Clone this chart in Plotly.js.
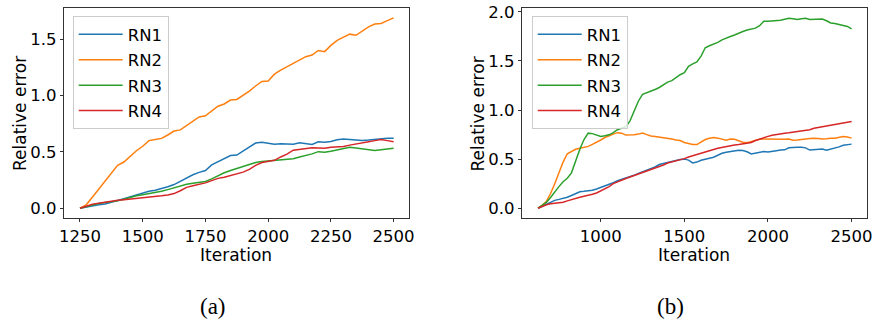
<!DOCTYPE html>
<html>
<head>
<meta charset="utf-8">
<script src="https://cdn.plot.ly/plotly-3.0.1.min.js"></script>
<style>html,body{margin:0;padding:0;background:#fff;}#chart{width:877px;height:324px;}</style>
</head>
<body>
<div id="chart"></div>
<script>
// ---------- data ----------
const seriesNames = ["RN1", "RN2", "RN3", "RN4"];
const seriesColors = ["#1f77b4", "#ff7f0e", "#2ca02c", "#d62728"];

// Panel (a)
const iterA = [1250,1275,1300,1325,1350,1375,1400,1425,1450,1475,
  1500,1525,1550,1575,1600,1625,1650,1675,1700,1725,
  1750,1775,1800,1825,1850,1875,1900,1925,1950,1975,
  2000,2025,2050,2075,2100,2125,2150,2175,2200,2225,
  2250,2275,2300,2325,2350,2375,2400,2425,2450,2475,
  2500];
const rn1A = [0,0.012,0.02,0.03,0.037,0.05,0.068,0.085,0.103,0.12,
  0.138,0.15,0.16,0.172,0.19,0.21,0.24,0.273,0.297,0.318,
  0.335,0.385,0.415,0.438,0.468,0.472,0.51,0.545,0.578,0.586,
  0.575,0.568,0.572,0.57,0.568,0.58,0.574,0.565,0.59,0.585,
  0.592,0.608,0.615,0.61,0.608,0.602,0.605,0.61,0.614,0.622,
  0.62];
const rn2A = [0,0.03,0.10,0.17,0.24,0.30,0.38,0.41,0.46,0.51,
  0.55,0.60,0.61,0.62,0.65,0.685,0.695,0.735,0.77,0.81,
  0.82,0.86,0.905,0.925,0.96,0.965,1.00,1.04,1.085,1.125,
  1.13,1.19,1.225,1.255,1.28,1.31,1.345,1.36,1.40,1.39,
  1.445,1.49,1.52,1.545,1.535,1.575,1.61,1.635,1.64,1.665,
  1.69];
const rn3A = [0,0.015,0.03,0.042,0.05,0.058,0.065,0.08,0.097,0.11,
  0.12,0.13,0.137,0.15,0.165,0.183,0.197,0.212,0.222,0.23,
  0.237,0.26,0.29,0.315,0.334,0.352,0.365,0.387,0.405,0.415,
  0.42,0.424,0.428,0.43,0.44,0.455,0.468,0.482,0.502,0.497,
  0.505,0.517,0.525,0.54,0.535,0.528,0.522,0.512,0.518,0.525,
  0.532];
const rn4A = [0,0.02,0.035,0.045,0.055,0.063,0.07,0.075,0.08,0.085,
  0.09,0.097,0.104,0.11,0.118,0.13,0.155,0.185,0.2,0.21,
  0.225,0.245,0.265,0.275,0.29,0.305,0.32,0.345,0.38,0.405,
  0.415,0.425,0.455,0.48,0.515,0.522,0.528,0.537,0.535,0.532,
  0.542,0.547,0.548,0.56,0.568,0.58,0.59,0.6,0.61,0.6,
  0.59];

// Panel (b)
const iterB = [625,650,675,700,725,750,775,800,825,850,
  875,900,925,950,975,1000,1025,1050,1075,1100,
  1125,1150,1175,1200,1225,1250,1275,1300,1325,1350,
  1375,1400,1425,1450,1475,1500,1525,1550,1575,1600,
  1625,1650,1675,1700,1725,1750,1775,1800,1825,1850,
  1875,1900,1925,1950,1975,2000,2025,2050,2075,2100,
  2125,2150,2175,2200,2225,2250,2275,2300,2325,2350,
  2375,2400,2425,2450,2475,2500];
const rn1B = [0,0.02,0.04,0.065,0.08,0.09,0.10,0.112,0.13,0.15,
  0.168,0.172,0.175,0.183,0.195,0.21,0.222,0.24,0.26,0.28,
  0.293,0.305,0.317,0.335,0.355,0.37,0.382,0.398,0.42,0.445,
  0.455,0.467,0.478,0.487,0.497,0.50,0.49,0.462,0.47,0.488,
  0.502,0.51,0.52,0.54,0.56,0.57,0.578,0.588,0.59,0.588,
  0.575,0.553,0.56,0.572,0.578,0.572,0.575,0.585,0.592,0.595,
  0.615,0.622,0.622,0.622,0.615,0.592,0.595,0.60,0.602,0.59,
  0.60,0.612,0.625,0.642,0.648,0.653];
const rn2B = [0,0.03,0.07,0.15,0.25,0.36,0.47,0.555,0.58,0.60,
  0.61,0.62,0.63,0.65,0.67,0.695,0.72,0.74,0.755,0.77,
  0.765,0.745,0.745,0.748,0.755,0.765,0.75,0.735,0.73,0.725,
  0.715,0.71,0.705,0.695,0.69,0.67,0.66,0.65,0.648,0.675,
  0.70,0.712,0.72,0.714,0.705,0.692,0.705,0.702,0.688,0.672,
  0.668,0.68,0.692,0.703,0.706,0.705,0.703,0.70,0.697,0.702,
  0.704,0.692,0.695,0.703,0.705,0.71,0.714,0.71,0.705,0.708,
  0.714,0.712,0.72,0.73,0.725,0.714];
const rn3B = [0,0.03,0.06,0.11,0.17,0.22,0.27,0.305,0.36,0.49,
  0.60,0.70,0.765,0.76,0.745,0.73,0.738,0.748,0.77,0.80,
  0.815,0.83,0.89,1.0,1.09,1.16,1.175,1.19,1.21,1.23,
  1.255,1.285,1.30,1.335,1.36,1.38,1.445,1.47,1.49,1.55,
  1.635,1.655,1.672,1.69,1.715,1.735,1.75,1.765,1.785,1.80,
  1.815,1.825,1.835,1.86,1.905,1.905,1.908,1.91,1.915,1.925,
  1.935,1.93,1.922,1.93,1.935,1.922,1.925,1.925,1.928,1.91,
  1.888,1.882,1.872,1.862,1.852,1.827];
const rn4B = [0,0.02,0.035,0.045,0.05,0.05,0.06,0.075,0.09,0.10,
  0.112,0.122,0.13,0.142,0.155,0.175,0.195,0.22,0.25,0.27,
  0.285,0.303,0.318,0.333,0.35,0.362,0.378,0.395,0.41,0.422,
  0.44,0.46,0.47,0.482,0.493,0.505,0.522,0.536,0.548,0.562,
  0.573,0.585,0.598,0.61,0.62,0.632,0.64,0.645,0.65,0.655,
  0.66,0.67,0.69,0.705,0.722,0.732,0.743,0.752,0.758,0.763,
  0.768,0.775,0.782,0.786,0.79,0.80,0.815,0.823,0.83,0.838,
  0.845,0.855,0.863,0.875,0.88,0.884];

const ticksA = [1250, 1500, 1750, 2000, 2250, 2500];
const ticksB = [1000, 1500, 2000, 2500];
const ticksYA = [0, 0.5, 1.0, 1.5];
const ticksYB = [0, 0.5, 1.0, 1.5, 2.0];
const captions = ["(a)", "(b)"];
const xTitle = "Iteration";
const yTitle = "Relative error";

// ---------- build ----------
const FONT = "DejaVu Sans, sans-serif";
const TICK_FS = 16.5;
const TITLE_FS = 17;
const LEG_FS = 16.5;
const W = 877, H = 324;
const seriesA = [rn1A, rn2A, rn3A, rn4A];
const seriesB = [rn1B, rn2B, rn3B, rn4B];
const traces = [];
seriesA.forEach((ys, i) => traces.push({
  type: "scatter", mode: "lines", x: iterA, y: ys, name: seriesNames[i],
  xaxis: "x", yaxis: "y", legend: "legend", legendgroup: "a" + i,
  line: {color: seriesColors[i], width: 1.5}
}));
seriesB.forEach((ys, i) => traces.push({
  type: "scatter", mode: "lines", x: iterB, y: ys, name: seriesNames[i],
  xaxis: "x2", yaxis: "y2", legend: "legend2", legendgroup: "b" + i,
  line: {color: seriesColors[i], width: 1.5}
}));

function ax(extra) {
  return Object.assign({
    showline: true, mirror: true, linecolor: "#333", linewidth: 1,
    ticks: "outside", ticklen: 3.5, tickwidth: 1, tickcolor: "#333",
    showgrid: false, zeroline: false, automargin: false,
    tickfont: {family: FONT, size: TICK_FS, color: "#000"}
  }, extra);
}

function leg(x) {
  return {
    x: x, y: 0.9506, xanchor: "left", yanchor: "top",
    bgcolor: "rgba(255,255,255,0.8)", bordercolor: "#cccccc", borderwidth: 1,
    font: {family: FONT, size: LEG_FS, color: "#000"}, tracegroupgap: 1,
    itemwidth: 44
  };
}

function label(text, px, py, angle, font, size) {
  return {text: text, xref: "paper", yref: "paper", x: px / W, y: (H - py) / H,
    xanchor: "center", yanchor: "middle", showarrow: false, textangle: angle,
    font: {family: font, size: size, color: "#000"}};
}

const SERIF = "Liberation Serif, DejaVu Serif, serif";
const layout = {
  width: W, height: H,
  margin: {l: 0, r: 0, t: 0, b: 0},
  paper_bgcolor: "#fff", plot_bgcolor: "#fff",
  showlegend: true,
  xaxis: ax({domain: [0.0733, 0.4667], anchor: "y", range: [1187.5, 2562.5], tickvals: ticksA}),
  yaxis: ax({domain: [0.328, 0.9744], anchor: "x", range: [-0.0845, 1.7745], tickvals: ticksYA, tickformat: ".1f"}),
  xaxis2: ax({domain: [0.5956, 0.9889], anchor: "y2", range: [531.25, 2593.75], tickvals: ticksB}),
  yaxis2: ax({domain: [0.328, 0.9744], anchor: "x2", range: [-0.097, 2.037], tickvals: ticksYB, tickformat: ".1f"}),
  legend: leg(0.0829),
  legend2: leg(0.6063),
  annotations: [
    label(xTitle, 236, 255, 0, FONT, TITLE_FS),
    label(xTitle, 694, 255, 0, FONT, TITLE_FS),
    label(yTitle, 20, 114, -90, FONT, TITLE_FS),
    label(yTitle, 477.5, 114, -90, FONT, TITLE_FS),
    label(captions[0], 213, 306, 0, SERIF, 23),
    label(captions[1], 670, 306, 0, SERIF, 23)
  ]
};

Plotly.newPlot("chart", traces, layout, {displayModeBar: false, staticPlot: true});
</script>
</body>
</html>
